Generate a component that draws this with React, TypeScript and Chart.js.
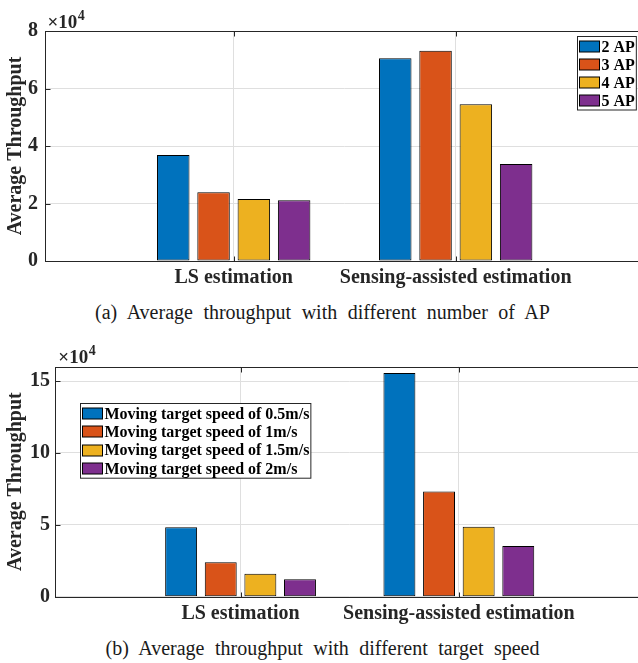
import React, { useEffect, useRef } from 'react';
import { Chart, registerables } from 'chart.js';

Chart.register(...registerables);

const FAMILY = "'Liberation Serif', 'Times New Roman', serif";

// ---------- data ----------
const categories = ['LS estimation', 'Sensing-assisted estimation'];

const apLabels = ['2 AP', '3 AP', '4 AP', '5 AP'];
const ap2 = [36900, 70500];
const ap3 = [23900, 73150];
const ap4 = [21600, 54500];
const ap5 = [21100, 33700];
const yTicksA = [0, 2, 4, 6, 8]; // x10^4

const speedLabels = [
  'Moving target speed of 0.5m/s',
  'Moving target speed of 1m/s',
  'Moving target speed of 1.5m/s',
  'Moving target speed of 2m/s',
];
const sp05 = [48300, 155600];
const sp1 = [24000, 73100];
const sp15 = [16000, 48700];
const sp2 = [12100, 35300];
const yTicksB = [0, 5, 10, 15]; // x10^4

const colors = ['#0072BD', '#D95319', '#EDB120', '#7E2F8E'];
const captionA = '(a) Average throughput with different number of AP';
const captionB = '(b) Average throughput with different target speed';

const AXIS = '#262626';
const GRID = 'rgb(223,223,223)';

const matlabPlugin = {
  id: 'matlabFrame',
  afterDraw(chart: any, _args: any, opts: any) {
    const { ctx, chartArea: a, scales } = chart;
    ctx.save();
    ctx.strokeStyle = AXIS;
    ctx.lineWidth = 1;
    const L = Math.round(a.left) + 0.5;
    const T = Math.round(a.top) + 0.5;
    const R = Math.round(a.right) + 0.5;
    const B = Math.round(a.bottom) + 0.5;
    ctx.strokeRect(L, T, R - L, B - T);
    const tl = 5;
    const line = (x1: number, y1: number, x2: number, y2: number) => {
      ctx.beginPath();
      ctx.moveTo(x1, y1);
      ctx.lineTo(x2, y2);
      ctx.stroke();
    };
    scales.x.ticks.forEach((t: any) => {
      const px = Math.round(scales.x.getPixelForValue(t.value)) + 0.5;
      line(px, T, px, T + tl);
      line(px, B, px, B - tl);
    });
    scales.y.ticks.forEach((t: any) => {
      const py = Math.round(scales.y.getPixelForValue(t.value)) + 0.5;
      line(L, py, L + tl, py);
      line(R, py, R - tl, py);
    });
    // exponent label
    ctx.fillStyle = AXIS;
    ctx.textAlign = 'left';
    ctx.textBaseline = 'alphabetic';
    ctx.font = `bold 19px ${FAMILY}`;
    const ex = a.left + opts.expDx;
    const ey = a.top - opts.expDy;
    ctx.fillText('\u00d710', ex, ey);
    const w = ctx.measureText('\u00d710').width;
    ctx.font = `bold 14px ${FAMILY}`;
    ctx.fillText(String(opts.exponent), ex + w + 0.5, ey - 8);
    // legend
    const lg = opts.legend;
    ctx.font = `bold 16px ${FAMILY}`;
    const labels: string[] = chart.data.datasets.map((d: any) => d.label);
    const tw = Math.max(...labels.map((l) => ctx.measureText(l).width));
    const boxW = 2 + 20 + 1.5 + tw + 2;
    const rowH = lg.rowH;
    const boxH = rowH * labels.length + 1.5;
    const bx = Math.round(lg.anchor === 'right' ? a.right - lg.dx - boxW : a.left + lg.dx) + 0.5;
    const by = Math.round(a.top + lg.dy) + 0.5;
    ctx.fillStyle = '#ffffff';
    ctx.fillRect(bx, by, boxW, boxH);
    ctx.strokeStyle = AXIS;
    ctx.strokeRect(bx, by, boxW, boxH);
    ctx.textBaseline = 'middle';
    labels.forEach((l, i) => {
      const cy = by + 1 + rowH * (i + 0.5);
      ctx.fillStyle = chart.data.datasets[i].backgroundColor;
      ctx.fillRect(bx + 2, Math.round(cy - 5.5), 20, 11);
      ctx.strokeStyle = '#000';
      ctx.strokeRect(bx + 2, Math.round(cy - 5.5), 20, 11);
      ctx.fillStyle = '#000';
      ctx.fillText(l, bx + 24, cy + 1);
    });
    ctx.restore();
  },
};

type PanelProps = {
  width: number;
  height: number;
  top: number;
  padTop: number;
  padRight: number;
  yWidth: number;
  yPad: number;
  yMax: number;
  yTicks: number[];
  labels: string[];
  series: number[][];
  legend: any;
  expDx: number;
  expDy: number;
};

function Panel(p: PanelProps) {
  const ref = useRef<HTMLCanvasElement>(null);
  useEffect(() => {
    const font = { family: FAMILY, size: 20, weight: 'bold' as const };
    const chart = new Chart(ref.current!, {
      type: 'bar',
      data: {
        datasets: p.series.map((vals, k) => ({
          label: p.labels[k],
          data: vals.map((v, i) => ({ x: i + 1, y: v })),
          backgroundColor: colors[k],
          borderColor: '#000000',
          borderWidth: 1,
          borderSkipped: false,
          categoryPercentage: 0.726,
          barPercentage: 0.806,
        })),
      },
      options: {
        animation: false,
        responsive: false,
        devicePixelRatio: 1,
        layout: { padding: { top: p.padTop, right: p.padRight, left: 0, bottom: 0 } },
        plugins: {
          legend: { display: false },
          tooltip: { enabled: false },
          matlabFrame: {
            exponent: 4,
            expDx: p.expDx,
            expDy: p.expDy,
            legend: p.legend,
          },
        } as any,
        scales: {
          x: {
            type: 'linear',
            min: 0.15,
            max: 2.85,
            offset: false,
            bounds: 'data',
            afterBuildTicks: (s: any) => {
              s.ticks = categories.map((_, i) => ({ value: i + 1 }));
            },
            afterFit: (s: any) => {
              s.height = p.height - p.padTop - 230;
            },
            ticks: {
              callback: (v: any) => categories[Math.round(v) - 1] ?? '',
              autoSkip: false,
              maxRotation: 0,
              padding: 5,
              color: AXIS,
              font,
            },
            grid: { color: GRID, drawTicks: false, lineWidth: 1, offset: false },
            border: { display: false },
          },
          y: {
            min: 0,
            max: p.yMax,
            afterBuildTicks: (s: any) => {
              s.ticks = p.yTicks.map((t) => ({ value: t * 1e4 }));
            },
            afterFit: (s: any) => {
              s.width = p.yWidth;
            },
            ticks: {
              callback: (v: any) => String(Math.round(Number(v) / 1e4)),
              padding: p.yPad,
              color: AXIS,
              font,
            },
            grid: { color: GRID, drawTicks: false, lineWidth: 1 },
            border: { display: false },
            title: {
              display: true,
              text: 'Average Throughput',
              color: AXIS,
              font: { family: FAMILY, size: 20, weight: 'bold' },
              padding: { top: 4, bottom: 0 },
            },
          },
        },
      },
      plugins: [matlabPlugin],
    } as any);
    return () => chart.destroy();
  }, []);
  return (
    <canvas
      ref={ref}
      width={p.width}
      height={p.height}
      style={{ position: 'absolute', left: 0, top: p.top, width: p.width, height: p.height }}
    />
  );
}

const captionStyle: React.CSSProperties = {
  position: 'absolute',
  left: 0,
  width: 645,
  textAlign: 'center',
  fontFamily: FAMILY,
  fontSize: 20,
  wordSpacing: 5.5,
  color: '#1a1a1a',
  lineHeight: '24px',
  whiteSpace: 'nowrap',
};

export default function App() {
  return (
    <div
      style={{
        position: 'fixed',
        left: 0,
        top: 0,
        width: 638,
        height: 663,
        overflow: 'hidden',
        background: '#ffffff',
      }}
    >
      <Panel
        width={660}
        height={291}
        top={0}
        padTop={31}
        padRight={15.6}
        yWidth={45}
        yPad={7}
        yMax={8e4}
        yTicks={yTicksA}
        labels={apLabels}
        series={[ap2, ap3, ap4, ap5]}
        legend={{ anchor: 'right', dx: 8.4, dy: 5, rowH: 18 }}
        expDx={2.5}
        expDy={3.5}
      />
      <div style={{ ...captionStyle, top: 300 }}>{captionA}</div>
      <Panel
        width={660}
        height={297}
        top={330}
        padTop={36.7}
        padRight={15.6}
        yWidth={55}
        yPad={5}
        yMax={16e4}
        yTicks={yTicksB}
        labels={speedLabels}
        series={[sp05, sp1, sp15, sp2]}
        legend={{ anchor: 'left', dx: 25, dy: 36.6, rowH: 18.3 }}
        expDx={3.3}
        expDy={3.4}
      />
      <div style={{ ...captionStyle, top: 636 }}>{captionB}</div>
    </div>
  );
}
